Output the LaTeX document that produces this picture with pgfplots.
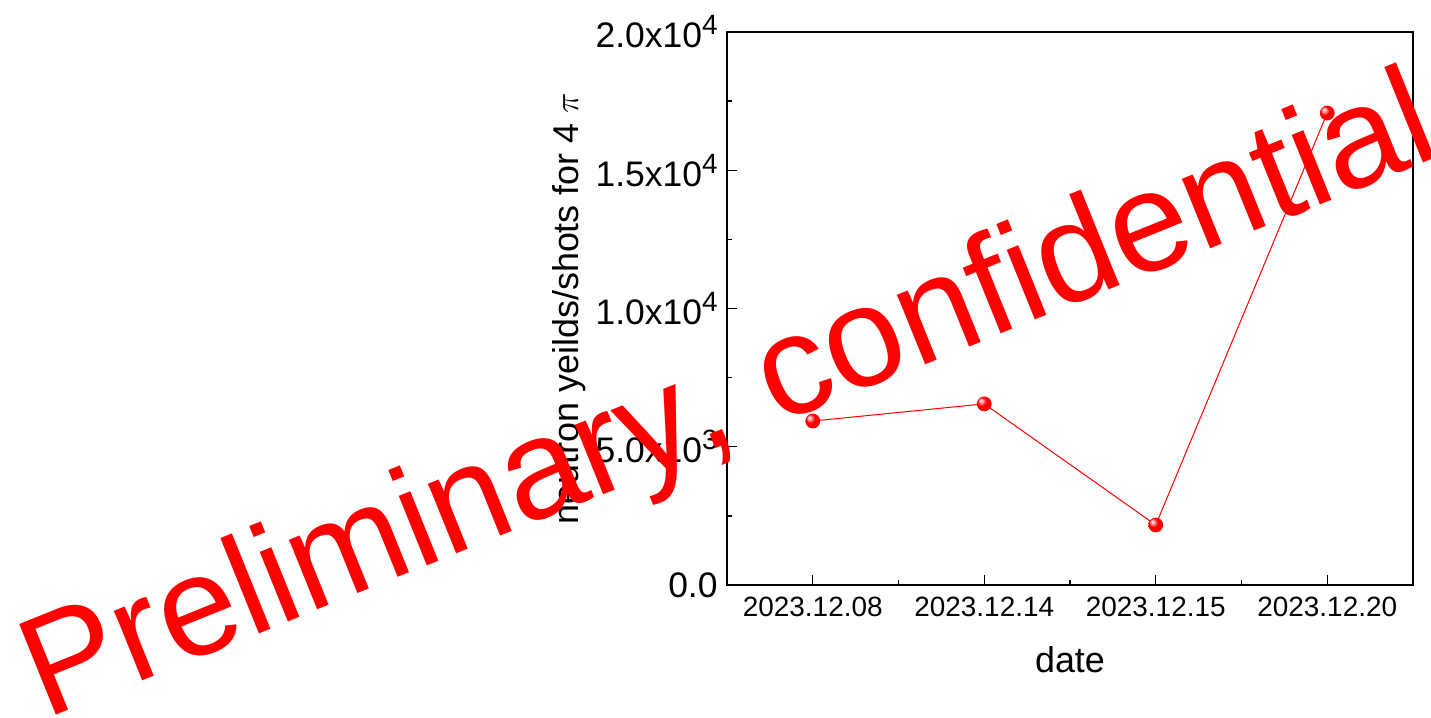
\documentclass[border=0pt]{standalone}
\usepackage{fontspec}
\setmainfont{Liberation Sans}
\newfontfamily\wmfont{Liberation Sans}[Kerning=Off]
\usepackage{pgfplots}
\pgfplotsset{compat=1.18}

% glossy red marker
\pgfdeclareradialshading{redballshade}{\pgfpoint{-12bp}{12bp}}{%
  color(0bp)=(white); color(5bp)=(red!30!white); color(15bp)=(red);
  color(40bp)=(red!92!black); color(50bp)=(red!85!black)}
\pgfdeclareplotmark{redball}{%
  \pgfpathcircle{\pgfpointorigin}{\pgfplotmarksize}%
  \pgfshadepath{redballshade}{0}%
  \pgfusepath{}}

\newcommand\pw[1]{\raisebox{0.37em}{\fontsize{14}{14}\selectfont #1}}

\begin{document}
\begin{tikzpicture}
\begin{axis}[
  at={(363.5bp,66.5bp)}, anchor=south west,
  scale only axis, width=343bp, height=276.5bp,
  xmin=-0.5, xmax=3.5, ymin=0, ymax=20000,
  xtick={0,1,2,3},
  xticklabels={2023.12.08,2023.12.14,2023.12.15,2023.12.20},
  minor xtick={0.5,1.5,2.5},
  ytick={0,5000,10000,15000,20000},
  yticklabels={0.0,5.0x10\pw{3},1.0x10\pw{4},1.5x10\pw{4},2.0x10\pw{4}},
  minor ytick={2500,7500,12500,17500},
  scaled y ticks=false,
  tick align=inside, tick pos=left,
  major tick length=5bp, minor tick length=2.5bp,
  axis line style={line width=1bp},
  every tick/.style={black, line width=0.7bp},
  xticklabel style={font=\fontsize{14}{16}\selectfont, yshift=-2.5bp},
  yticklabel style={font=\fontsize{17.8}{19}\selectfont, xshift=-1.2bp},
  xlabel={date},
  ylabel={neutron yeilds/shots for 4 $\pi$},
  xlabel style={font=\fontsize{18}{20}\selectfont, at={(axis description cs:0.5,-0.159)}, anchor=base},
  ylabel style={font=\fontsize{18}{20}\selectfont, at={(axis description cs:-0.217,0.5)}, anchor=base},
  clip=false,
]
\addplot[red, line width=0.5bp, mark=redball, mark size=3.7bp]
  coordinates {(0,5930) (1,6550) (2,2170) (3,17070)};
\end{axis}
% watermark across the figure
\node[red, inner sep=0pt, anchor=base west, rotate=22, font=\wmfont\fontsize{71.3}{80}\selectfont]
  at (22.5bp,-1bp) {Preliminary, confidential};
\pgfresetboundingbox
\path[use as bounding box] (0,0) rectangle (715.5bp,359bp);
\end{tikzpicture}
\end{document}
